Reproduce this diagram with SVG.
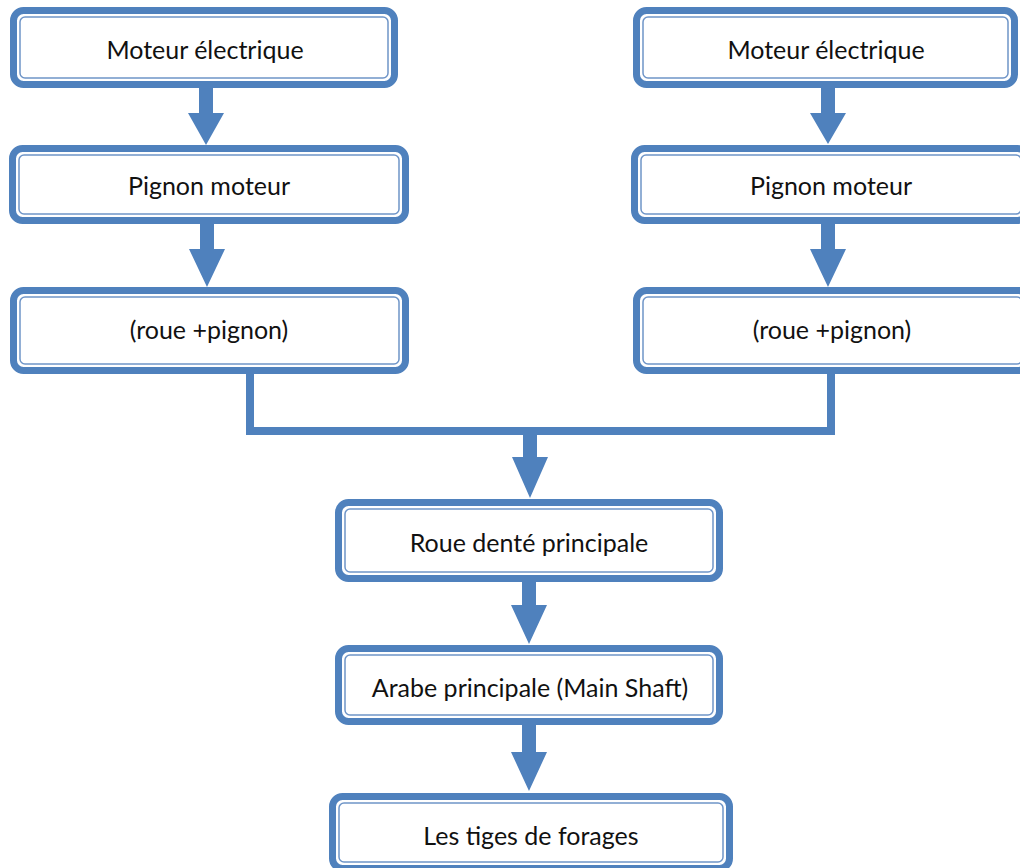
<svg xmlns="http://www.w3.org/2000/svg" width="1020" height="868" viewBox="0 0 1020 868">
<style>
.outer{fill:#fff;stroke:#4f81bd;stroke-width:7}
.inner{fill:none;stroke:#6f95c8;stroke-width:1.5}
.lbl{font-family:Lato,"Open Sans",sans-serif;font-size:25px;fill:#111;text-anchor:middle}
.line{fill:none;stroke:#4f81bd;stroke-width:8}
.arrow{fill:#4f81bd}
</style>
<rect width="1020" height="868" fill="#fff"/>
<g id="connectors">
<polyline class="line" points="250,372 250,431 831,431 831,372"/>
<polygon class="arrow" points="199,86 213,86 213,113 224,113 206,145 188,113 199,113"/>
<polygon class="arrow" points="821,86 835,86 835,113 846,113 828,144 810,113 821,113"/>
<polygon class="arrow" points="200,222 214,222 214,249 225,249 207,287 189,249 200,249"/>
<polygon class="arrow" points="821,222 835,222 835,249 846,249 828,287 810,249 821,249"/>
<polygon class="arrow" points="523,427 537,427 537,457 548,457 530,498 512,457 523,457"/>
<polygon class="arrow" points="522,580 536,580 536,605 547,605 529,644 511,605 522,605"/>
<polygon class="arrow" points="522,723 536,723 536,752 547,752 529,791 511,752 522,752"/>
</g>
<g id="n1">
<rect class="outer" x="13.5" y="10.5" width="381" height="74" rx="10"/>
<rect class="inner" x="20" y="17" width="368" height="61" rx="5"/>
<text class="lbl" x="205" y="59">Moteur électrique</text>
</g>
<g id="n2">
<rect class="outer" x="12.5" y="148.5" width="393" height="72" rx="10"/>
<rect class="inner" x="19" y="155" width="380" height="59" rx="5"/>
<text class="lbl" x="209" y="195">Pignon moteur</text>
</g>
<g id="n3">
<rect class="outer" x="13.5" y="290.5" width="392" height="80" rx="10"/>
<rect class="inner" x="20" y="297" width="379" height="67" rx="5"/>
<text class="lbl" x="209" y="339">(roue +pignon)</text>
</g>
<g id="n4">
<rect class="outer" x="636.5" y="10.5" width="378" height="74" rx="10"/>
<rect class="inner" x="643" y="17" width="365" height="61" rx="5"/>
<text class="lbl" x="826" y="59">Moteur électrique</text>
</g>
<g id="n5">
<rect class="outer" x="634.5" y="148.5" width="393" height="72" rx="10"/>
<rect class="inner" x="641" y="155" width="380" height="59" rx="5"/>
<text class="lbl" x="831" y="195">Pignon moteur</text>
</g>
<g id="n6">
<rect class="outer" x="636.5" y="290.5" width="392" height="80" rx="10"/>
<rect class="inner" x="643" y="297" width="379" height="67" rx="5"/>
<text class="lbl" x="832" y="339">(roue +pignon)</text>
</g>
<g id="n7">
<rect class="outer" x="338.5" y="502.5" width="381" height="76" rx="10"/>
<rect class="inner" x="345" y="509" width="368" height="63" rx="5"/>
<text class="lbl" x="529" y="552">Roue denté principale</text>
</g>
<g id="n8">
<rect class="outer" x="338.5" y="648.5" width="381" height="73" rx="10"/>
<rect class="inner" x="345" y="655" width="368" height="60" rx="5"/>
<text class="lbl" x="530" y="697">Arabe principale (Main Shaft)</text>
</g>
<g id="n9">
<rect class="outer" x="332.5" y="796.5" width="397" height="72" rx="10"/>
<rect class="inner" x="339" y="803" width="384" height="59" rx="5"/>
<text class="lbl" x="531" y="845">Les tiges de forages</text>
</g>
</svg>
